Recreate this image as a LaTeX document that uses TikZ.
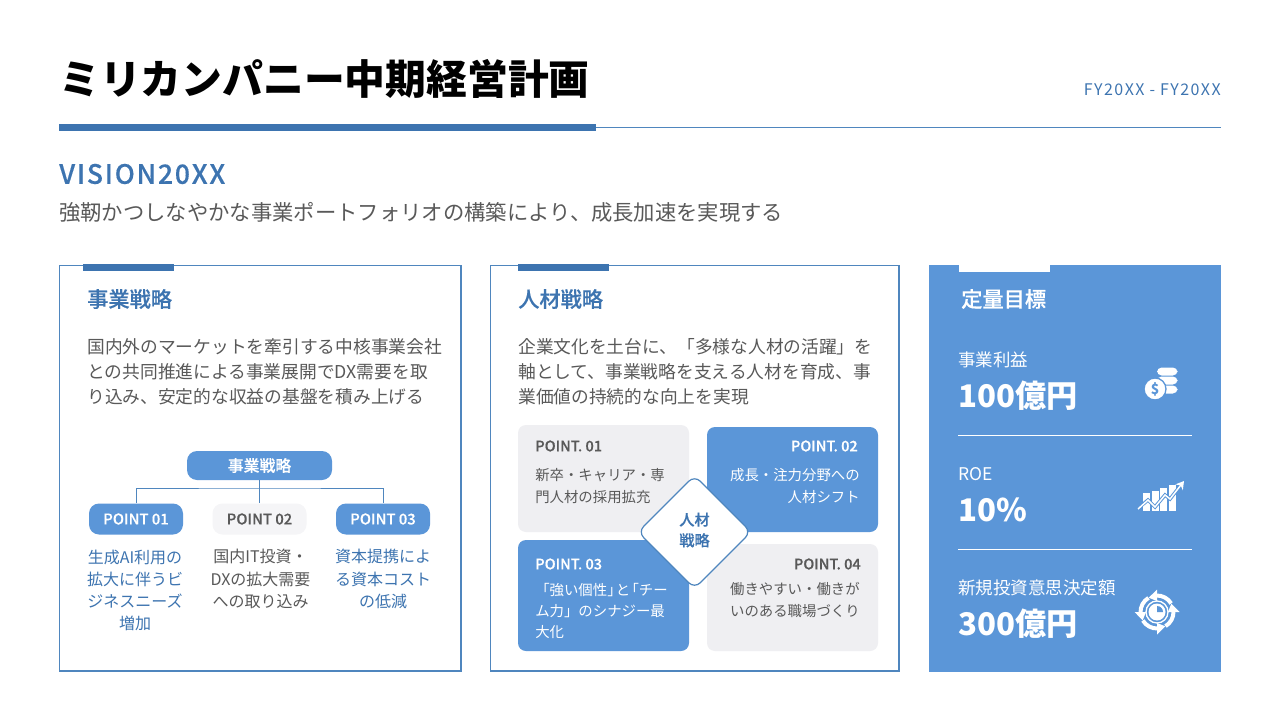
\documentclass[tikz,border=0pt]{standalone}
\usepackage{fontspec}
\setmainfont{Noto Sans CJK JP}
\newfontfamily\medfont{Noto Sans CJK JP Medium}[FakeBold=0.35]
\usetikzlibrary{shapes.geometric, arrows.meta}
\definecolor{midblue}{HTML}{5B96D8}
\definecolor{deepblue}{HTML}{3D74B0}
\definecolor{edgeblue}{HTML}{4F86BE}
\definecolor{paleblock}{HTML}{EFEFF2}
\definecolor{bodygray}{HTML}{595959}
\tikzset{
  txt/.style={inner sep=0pt, anchor=west, align=left},
  rtxt/.style={inner sep=0pt, anchor=east, align=right},
  ctxt/.style={inner sep=0pt, anchor=center, align=center},
  panel/.style={draw=edgeblue, line width=0.85pt, fill=white},
  heading/.style={txt, text=deepblue, font=\fontsize{15.9}{20}\medfont},
  bodytext/.style={txt, text=bodygray, font=\fontsize{13.3}{18.75}\selectfont},
  pill/.style={rounded corners=7.5, minimum height=0.75pt*31, inner sep=0pt, font=\fontsize{11.1}{13}\medfont},
  bluepill/.style={pill, fill=midblue, text=white},
  greypill/.style={pill, fill=paleblock!60, text=bodygray},
  note/.style={ctxt, font=\fontsize{12}{16.7}\selectfont},
  pointtag/.style={font=\fontsize{10.9}{13}\medfont},
  pointtext/.style={font=\fontsize{10.8}{16}\selectfont},
  kpilabel/.style={txt, text=white, font=\fontsize{13.1}{16}\selectfont},
  kpivalue/.style={txt, text=white, font=\fontsize{23.4}{28}\selectfont\bfseries},
}

\begin{document}
\begin{tikzpicture}[x=0.75pt,y=0.75pt,yscale=-1,xscale=1]
\useasboundingbox (0,0) rectangle (1280,720);

% Header
\node (title) [txt, font=\fontsize{30.6}{36}\selectfont\bfseries] at (59,79) {ミリカンパニー中期経営計画};
\node (period) [rtxt, text=deepblue, font=\fontsize{12}{14}\selectfont\addfontfeatures{LetterSpace=9}] at (1221,90) {FY20XX - FY20XX};
\fill [deepblue] (59,124) rectangle (596,131);
\draw [edgeblue, line width=0.75pt] (596,127.5) -- (1221,127.5);
\node (vision) [txt, text=deepblue, font=\fontsize{20}{24}\medfont\addfontfeatures{LetterSpace=6.5}] at (59,174) {VISION20XX};
\node (visiontext) [txt, text=bodygray, font=\fontsize{16}{20}\selectfont] at (59,212) {強靭かつしなやかな事業ポートフォリオの構築により、成長加速を実現する};

% Left panel
\draw [panel] (59.5,265.5) rectangle (461,671);
\fill [deepblue] (83,264) rectangle (174,271);
\node (bizhead) [heading] at (87,299) {事業戦略};
\node (bizbody) [bodytext] at (87,372) {国内外のマーケットを牽引する中核事業会社\\との共同推進による事業展開でDX需要を取\\り込み、安定的な収益の基盤を積み上げる};
\node (biztop) [bluepill, minimum width=0.75pt*145, minimum height=0.75pt*29, font=\fontsize{11.9}{14}\medfont] at (259.5,465.5) {事業戦略};
\node (bizpt1) [bluepill, minimum width=0.75pt*94] at (136,519) {POINT 01};
\node (bizpt2) [greypill, minimum width=0.75pt*94] at (259.5,519) {POINT 02};
\node (bizpt3) [bluepill, minimum width=0.75pt*94] at (383,519) {POINT 03};
\coordinate (bizbus) at (259.5,488);
\draw [edgeblue, line width=0.6pt] (bizpt1.north) |- (bizbus) -| (bizpt3.north);
\draw [edgeblue, line width=0.6pt] (biztop.south) -- (bizpt2.north);
\node (biznote1) [note, text=deepblue] at (135,590.5) {生成AI利用の\\拡大に伴うビ\\ジネスニーズ\\増加};
\node (biznote2) [note, text=bodygray] at (260.5,579) {国内IT投資・\\DXの拡大需要\\への取り込み};
\node (biznote3) [note, text=deepblue] at (383,579) {資本提携によ\\る資本コスト\\の低減};

% Middle panel
\draw [panel] (490.5,265.5) rectangle (899,671);
\fill [deepblue] (518,264) rectangle (609,271);
\node (hrhead) [heading] at (518,299) {人材戦略};
\node (hrbody) [bodytext] at (518,372) {企業文化を土台に、「多様な人材の活躍」を\\軸として、事業戦略を支える人材を育成、事\\業価値の持続的な向上を実現};
\fill [paleblock, rounded corners=6] (518,425) rectangle (689,532);
\fill [midblue, rounded corners=6] (707,427) rectangle (878,532);
\fill [midblue, rounded corners=6] (518,540) rectangle (689,651);
\fill [paleblock, rounded corners=6] (707,544) rectangle (878,651);
\node (tag1) [txt, pointtag, text=bodygray] at (535,446) {POINT. 01};
\node (txt1) [txt, pointtext, text=bodygray] at (535,486) {新卒・キャリア・専\\門人材の採用拡充};
\node (tag2) [rtxt, pointtag, text=white] at (858,446) {POINT. 02};
\node (txt2) [rtxt, pointtext, text=white] at (860,486) {成長・注力分野への\\人材シフト};
\node (tag3) [txt, pointtag, text=white] at (535,564) {POINT. 03};
\node (txt3) [txt, pointtext, text=white] at (535,611) {「強い個性」\kern-.4em と\kern-.4em「チー\\ム力」のシナジー最\\大化};
\node (tag4) [rtxt, pointtag, text=bodygray] at (861,564) {POINT. 04};
\node (txt4) [rtxt, pointtext, text=bodygray] at (860,600) {働きやすい・働きが\\いのある職場づくり};
\draw [edgeblue, line width=0.9pt, fill=white, rounded corners=6] (694.5,475.5) -- (751,532) -- (694.5,588.5) -- (638,532) -- cycle;
\node (hrcore) [ctxt, text=deepblue, font=\fontsize{11.4}{15.5}\medfont] at (694.5,530) {人材\\戦略};

% Right panel
\fill [midblue] (929,265) rectangle (1221,672);
\fill [white] (959,264) rectangle (1050,272);
\node (kpihead) [txt, text=white, font=\fontsize{15.9}{20}\medfont] at (961,299) {定量目標};
\node (kpi1label) [kpilabel] at (958,360) {事業利益};
\node (kpi1value) [kpivalue] at (958,396) {100億円};
\draw [white, line width=0.75pt] (958,435.5) -- (1192,435.5);
\node (kpi2label) [kpilabel] at (958,474) {ROE};
\node (kpi2value) [kpivalue] at (958,510) {10\%};
\draw [white, line width=0.75pt] (958,549.5) -- (1192,549.5);
\node (kpi3label) [kpilabel] at (958,588) {新規投資意思決定額};
\node (kpi3value) [kpivalue] at (958,624) {300億円};

% Coin icon
\foreach \y in {367.5,376.5,385.5} {
  \fill [white, rounded corners=3.5] (1157,\y) rectangle (1177.5,\y+8);
}
\draw [midblue, fill=white, line width=1pt] (1155,389) circle [radius=11];
\node (coinmark) [ctxt, text=midblue, font=\fontsize{10.5}{11}\selectfont\bfseries] at (1155,389) {\$};

% Chart icon
\foreach \x/\t in {1143/493,1151.5/491,1160/488,1169/485} {
  \fill [white] (\x,\t) rectangle (\x+7,511);
}
\draw [midblue, line width=2.6pt] (1136,510) -- (1148,500) -- (1155,507) -- (1165,495) -- (1170,499) -- (1181,485);
\draw [white, line width=1.1pt, -{Stealth[length=6,width=7]}] (1138,509) -- (1148,500) -- (1155,507) -- (1165,495) -- (1170,499) -- (1184,481);

% Cycle icon
\draw [white, line width=1pt] (1157,612) circle [radius=11];
\fill [white] (1157,612) circle [radius=8.5];
\fill [midblue] (1157,612) -- (1157,606) arc [start angle=-90, end angle=0, radius=6] -- cycle;
\foreach \a in {0,90,180,270} {
  \draw [white, line width=3pt] ([shift={(-\a-31:16.5)}]1157,612) arc [start angle=-\a-31, end angle=-\a-92, radius=16.5];
  \fill [white] ([shift={(-\a-90:11)}]1157,612) -- ([shift={(-\a-90:22.5)}]1157,612) -- ([shift={(-\a-120:16.5)}]1157,612) -- cycle;
}
\end{tikzpicture}
\end{document}
